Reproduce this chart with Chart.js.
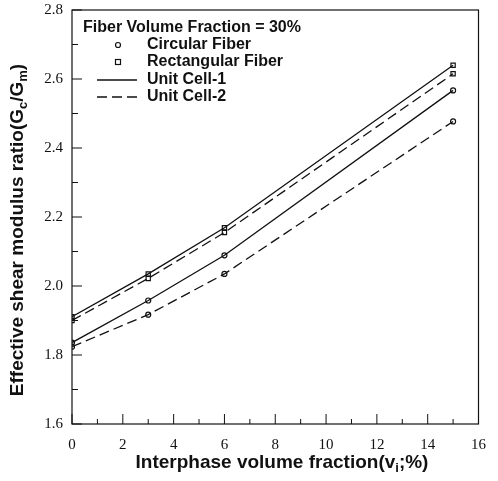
<!DOCTYPE html>
<html>
<head>
<meta charset="utf-8">
<script src="https://cdn.jsdelivr.net/npm/chart.js@4.4.1/dist/chart.umd.min.js"></script>
<style>
  html, body { margin: 0; padding: 0; background: #fff; }
  #wrap { width: 498px; height: 481px; }
</style>
</head>
<body>
<div id="wrap"><canvas id="chart" width="498" height="481"></canvas></div>
<script>
// Interphase volume fraction (%)
const xValues = [0, 3, 6, 15];

// Effective shear modulus ratio Gc/Gm
const circCell1 = [1.836, 1.958, 2.089, 2.567];
const circCell2 = [1.824, 1.917, 2.035, 2.477];
const rectCell1 = [1.911, 2.035, 2.169, 2.640];
const rectCell2 = [1.900, 2.022, 2.155, 2.615];

const legendTitle = 'Fiber Volume Fraction = 30%';
const legendItems = ['Circular Fiber', 'Rectangular Fiber', 'Unit Cell-1', 'Unit Cell-2'];

const sansFont = '"Liberation Sans", Arial, sans-serif';
const serifFont = '"Liberation Serif", "Times New Roman", serif';

function toPoints(ys) {
  return xValues.map((x, i) => ({ x: x, y: ys[i] }));
}

function makeSet(label, ys, shape, dashed) {
  return {
    label: label,
    data: toPoints(ys),
    showLine: true,
    borderColor: '#111',
    backgroundColor: '#fff',
    borderWidth: 1.3,
    borderDash: dashed ? [10, 5] : [],
    pointStyle: shape,
    pointRadius: shape === 'rect' ? 3 : 2.5,
    pointBorderColor: '#111',
    pointBorderWidth: 1.2,
    pointBackgroundColor: 'rgba(255,255,255,0)',
    tension: 0
  };
}

// draws text with sub parts lowered and smaller
function drawRich(ctx, parts, x, y, size, weight) {
  let total = 0;
  parts.forEach(p => {
    ctx.font = weight + ' ' + (p.sub ? Math.round(size * 0.68) : size) + 'px ' + sansFont;
    p.w = ctx.measureText(p.t).width;
    total += p.w;
  });
  let cx = x - total / 2;
  parts.forEach(p => {
    ctx.font = weight + ' ' + (p.sub ? Math.round(size * 0.68) : size) + 'px ' + sansFont;
    ctx.fillText(p.t, cx, y + (p.sub ? size * 0.3 : 0));
    cx += p.w;
  });
}

const framePlugin = {
  id: 'frame',
  afterDraw(chart) {
    const ctx = chart.ctx;
    const a = chart.chartArea;
    const xs = chart.scales.x, ys = chart.scales.y;
    ctx.save();
    ctx.strokeStyle = '#111';
    ctx.lineWidth = 1.2;
    ctx.setLineDash([]);
    ctx.strokeRect(a.left, a.top, a.right - a.left, a.bottom - a.top);

    // inward ticks on bottom and left
    ctx.lineWidth = 1;
    for (let v = 0; v <= 16; v += 1) {
      const px = xs.getPixelForValue(v);
      const len = v % 2 === 0 ? 10 : 5;
      ctx.beginPath();
      ctx.moveTo(px, a.bottom); ctx.lineTo(px, a.bottom - len);
      ctx.stroke();
    }
    for (let k = 0; k <= 12; k++) {
      const v = 1.6 + k * 0.1;
      const py = ys.getPixelForValue(v);
      const len = k % 2 === 0 ? 10 : 6;
      ctx.beginPath();
      ctx.moveTo(a.left, py); ctx.lineTo(a.left + len, py);
      ctx.stroke();
    }

    // axis titles
    ctx.fillStyle = '#111';
    ctx.textBaseline = 'middle';
    ctx.textAlign = 'left';
    drawRich(ctx, [{ t: 'Interphase volume fraction(v' }, { t: 'i', sub: true }, { t: ';%)' }],
      282, 463, 19, 'bold');
    ctx.save();
    ctx.translate(18, 230);
    ctx.rotate(-Math.PI / 2);
    drawRich(ctx, [{ t: 'Effective shear modulus ratio(G' }, { t: 'c', sub: true }, { t: '/G' }, { t: 'm', sub: true }, { t: ')' }],
      0, 0, 19, 'bold');
    ctx.restore();

    // legend box content
    ctx.font = 'bold 16px ' + sansFont;
    ctx.fillText(legendTitle, 83, 28);
    ctx.fillText(legendItems[0], 147, 45);
    ctx.fillText(legendItems[1], 147, 62);
    ctx.fillText(legendItems[2], 147, 80);
    ctx.fillText(legendItems[3], 147, 97);
    ctx.lineWidth = 1.2;
    ctx.beginPath(); ctx.arc(118, 45, 2.5, 0, Math.PI * 2); ctx.stroke();
    ctx.strokeRect(115.5, 59.5, 5, 5);
    ctx.lineWidth = 1.3;
    ctx.beginPath(); ctx.moveTo(97, 80); ctx.lineTo(137, 80); ctx.stroke();
    ctx.setLineDash([10, 5]);
    ctx.beginPath(); ctx.moveTo(97, 97); ctx.lineTo(137, 97); ctx.stroke();
    ctx.restore();
  }
};

new Chart(document.getElementById('chart'), {
  type: 'scatter',
  data: {
    datasets: [
      makeSet('Rectangular Unit Cell-1', rectCell1, 'rect', false),
      makeSet('Rectangular Unit Cell-2', rectCell2, 'rect', true),
      makeSet('Circular Unit Cell-1', circCell1, 'circle', false),
      makeSet('Circular Unit Cell-2', circCell2, 'circle', true)
    ]
  },
  options: {
    responsive: false,
    animation: false,
    layout: { padding: { top: 10, right: 10, left: 0, bottom: 0 } },
    plugins: { legend: { display: false }, tooltip: { enabled: false } },
    scales: {
      x: {
        type: 'linear', min: 0, max: 16,
        afterFit: s => { s.height = 57; },
        border: { display: false },
        grid: { display: false, drawTicks: false },
        ticks: { stepSize: 2, color: '#111', padding: 12, maxRotation: 0,
          font: { family: serifFont, size: 15 } }
      },
      y: {
        type: 'linear', min: 1.6, max: 2.8,
        afterFit: s => { s.width = 72; s.paddingTop = 0; s.paddingBottom = 0; },
        border: { display: false },
        grid: { display: false, drawTicks: false },
        ticks: { stepSize: 0.2, color: '#111', padding: 9,
          font: { family: serifFont, size: 15 },
          callback: v => Number(v).toFixed(1) }
      }
    }
  },
  plugins: [framePlugin]
});
</script>
</body>
</html>
